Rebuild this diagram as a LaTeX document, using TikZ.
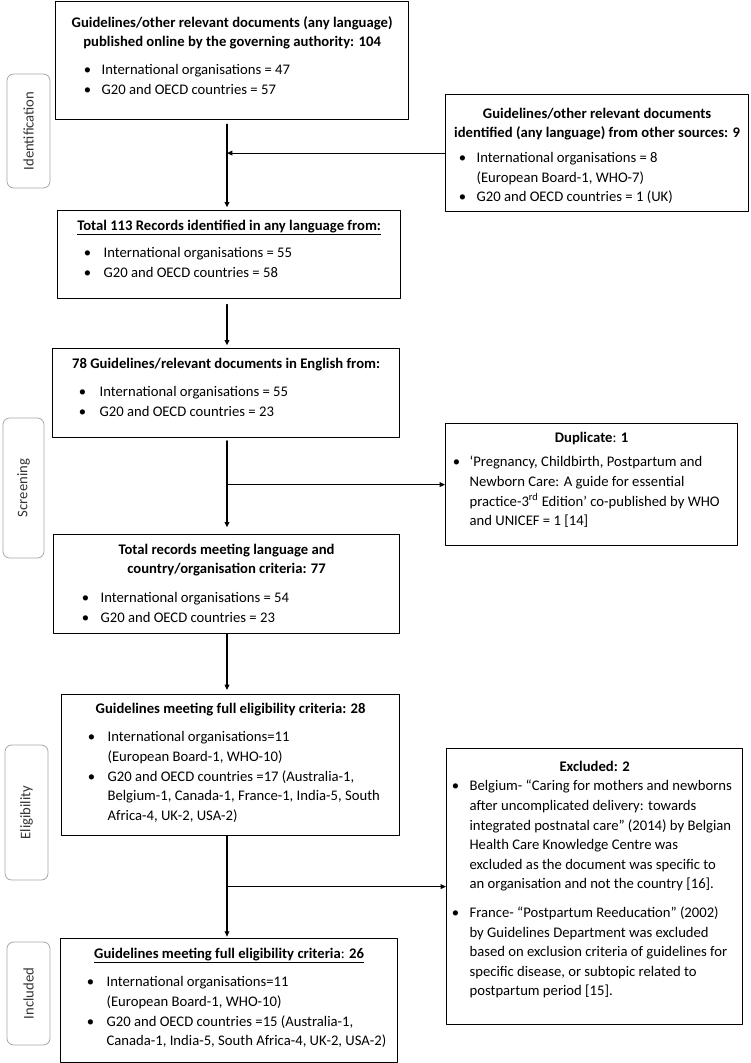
\documentclass[tikz,border=0pt]{standalone}
\usepackage{fontspec}
\setmainfont{Carlito}
\usetikzlibrary{arrows.meta}
\newlength{\pxu}
\setlength{\pxu}{0.75pt}
\newcommand{\boxtext}[4]{\parbox[c][#2\pxu][t]{#1\pxu}{\vspace*{#3\pxu}#4}}
\newcommand{\heading}[1]{{\centering\strut#1\par}}
\newenvironment{blist}[3][0]{\list{\makebox[0pt]{\textbullet}}{%
  \setlength{\leftmargin}{#2\pxu}\setlength{\labelsep}{#3\pxu}%
  \setlength{\labelwidth}{0pt}\setlength{\itemsep}{#1\pxu}%
  \setlength{\parsep}{0pt}\setlength{\topsep}{0pt}%
  \setlength{\partopsep}{0pt}\setlength{\rightmargin}{0pt}}\raggedright}{\endlist}

\begin{document}
\begin{tikzpicture}[line cap=round, line join=round, >={Triangle[length=4pt,width=3.5pt]},
  x=0.75pt, y=-0.75pt,
  box/.style={draw, line width=0.9pt, inner sep=0pt, anchor=north west,
    font=\fontsize{11}{14.7}\selectfont},
  stage/.style={draw=black!35, line width=0.6pt, rounded corners=5pt, rotate=90,
    inner sep=0pt, text=black!80, font=\fontsize{11}{14.7}\selectfont},
  arr/.style={->, line width=0.9pt}]
  \useasboundingbox (0,0) rectangle (750,1063);
  \coordinate (sp) at (227,0);

  \node[stage, minimum width=114*0.75pt, minimum height=43*0.75pt] (sid) at (28.5,131) {Identification};
  \node[stage, minimum width=140*0.75pt, minimum height=41*0.75pt] (sscr) at (23.5,488) {Screening};
  \node[stage, minimum width=135*0.75pt, minimum height=43*0.75pt] (selig) at (26.5,812.5) {Eligibility};
  \node[stage, minimum width=103*0.75pt, minimum height=43*0.75pt] (sincl) at (28.5,993.5) {Included};

  \node[box] (online) at (55,1) {\boxtext{353}{118}{12}{%
    \heading{\textbf{Guidelines/other relevant documents (any language)}\\
      \textbf{published online by the governing authority: 104}}
    \vspace{8\pxu}
    \begin{blist}{46}{14}
      \item International organisations = 47
      \item G20 and OECD countries = 57
    \end{blist}}};
  \node[box] (other) at (445,94) {\boxtext{303}{117}{10}{%
    \heading{\textbf{Guidelines/other relevant documents}\\
      \textbf{identified (any language) from other sources: 9}}
    \vspace{5\pxu}
    \begin{blist}{31}{14}
      \item International organisations = 8\newline (European Board-1, WHO-7)
      \item G20 and OECD countries = 1 (UK)
    \end{blist}}};
  \node[box] (total) at (57,210) {\boxtext{343}{88}{6}{%
    \heading{\underline{\textbf{Total 113 Records identified in any language from:}}}
    \vspace{8\pxu}
    \begin{blist}{46}{16}
      \item International organisations = 55
      \item G20 and OECD countries = 58
    \end{blist}}};
  \node[box] (english) at (52,348) {\boxtext{347}{89}{6}{%
    \heading{\textbf{78 Guidelines/relevant documents in English from:}}
    \vspace{9\pxu}
    \begin{blist}{47}{17}
      \item International organisations = 55
      \item G20 and OECD countries = 23
    \end{blist}}};
  \node[box] (dup) at (445,423) {\boxtext{292}{122}{5}{%
    \heading{\textbf{Duplicate}: \textbf{1}}
    \vspace{5\pxu}
    \begin{blist}{24}{13}
      \item ‘Pregnancy, Childbirth, Postpartum and\newline Newborn Care: A guide for essential\newline
        practice-3\textsuperscript{rd} Edition’ co-published by WHO\newline and UNICEF = 1 [14]
    \end{blist}}};
  \node[box] (crit) at (53,534) {\boxtext{346}{99}{6}{%
    \heading{\textbf{Total records meeting language and}\\
      \textbf{country/organisation criteria: 77}}
    \vspace{9\pxu}
    \begin{blist}{47}{15}
      \item International organisations = 54
      \item G20 and OECD countries = 23
    \end{blist}}};
  \node[box] (elig) at (61,694) {\boxtext{338}{141}{5}{%
    \heading{\textbf{Guidelines meeting full eligibility criteria: 28}}
    \vspace{9\pxu}
    \begin{blist}{46}{16}
      \item International organisations=11\newline (European Board-1, WHO-10)
      \item G20 and OECD countries =17 (Australia-1,\newline Belgium-1, Canada-1, France-1, India-5, South\newline
        Africa-4, UK-2, USA-2)
    \end{blist}}};
  \node[box] (excl) at (446,748) {\boxtext{296}{276}{9}{%
    \heading{\textbf{Excluded: 2}}
    \begin{blist}[9]{23}{14}
      \item Belgium- “Caring for mothers and newborns\newline after uncomplicated delivery: towards\newline
        integrated postnatal care” (2014) by Belgian\newline Health Care Knowledge Centre was\newline
        excluded as the document was specific to\newline an organisation and not the country [16].
      \item France- “Postpartum Reeducation” (2002)\newline by Guidelines Department was excluded\newline
        based on exclusion criteria of guidelines for\newline specific disease, or subtopic related to\newline
        postpartum period [15].
    \end{blist}}};
  \node[box] (incl) at (60,938) {\boxtext{337}{124}{6}{%
    \heading{\underline{\textbf{Guidelines meeting full eligibility criteria}: \textbf{26}}}
    \vspace{9\pxu}
    \begin{blist}{46}{16}
      \item International organisations=11\newline (European Board-1, WHO-10)
      \item G20 and OECD countries =15 (Australia-1,\newline Canada-1, India-5, South Africa-4, UK-2, USA-2)
    \end{blist}}};

  \draw[arr, shorten <=3pt, shorten >=2pt] (online.south -| sp) -- (total.north -| sp);
  \draw[arr] (other.west) -- (other.west -| sp);
  \draw[arr, shorten <=4pt, shorten >=2pt] (total.south -| sp) -- (english.north -| sp);
  \draw[arr, shorten <=2pt, shorten >=5pt] (english.south -| sp) -- (crit.north -| sp);
  \draw[arr] (dup.west -| sp) -- (dup.west);
  \draw[arr, shorten >=3pt] (crit.south -| sp) -- (elig.north -| sp);
  \draw[arr, shorten >=1pt] (elig.south -| sp) -- (incl.north -| sp);
  \draw[arr] (excl.west -| sp) -- (excl.west);
\end{tikzpicture}
\end{document}
